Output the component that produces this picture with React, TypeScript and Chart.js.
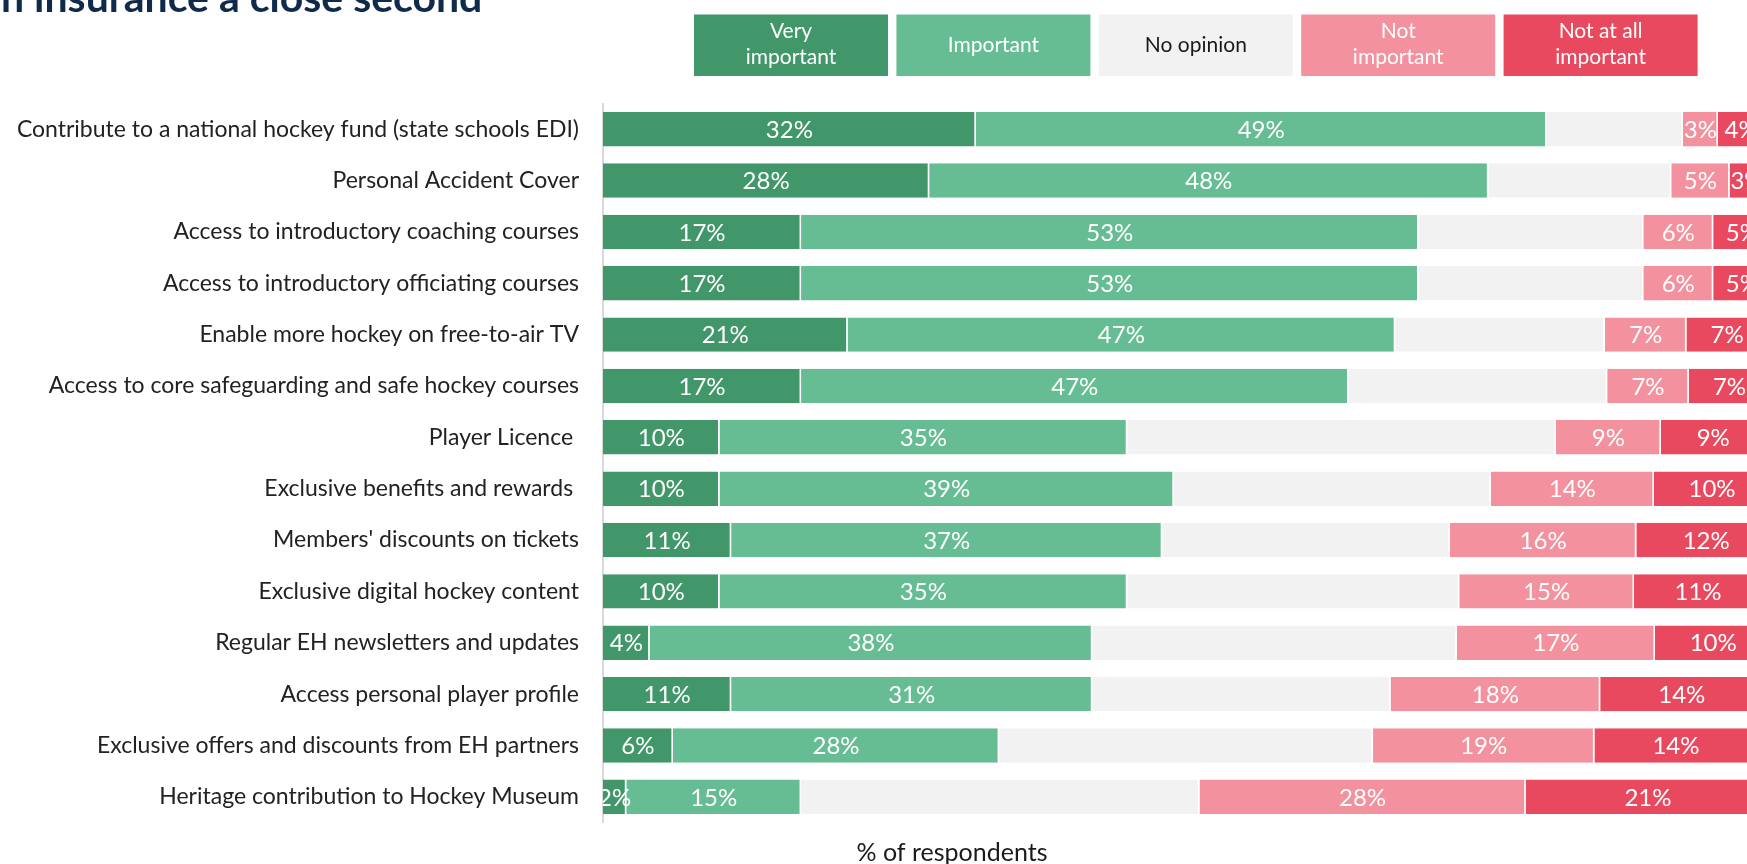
import { useEffect, useRef } from "react";
import { Chart, registerables } from "chart.js";

Chart.register(...registerables);

const categories = [
  "Contribute to a national hockey fund (state schools EDI)",
  "Personal Accident Cover",
  "Access to introductory coaching courses",
  "Access to introductory officiating courses",
  "Enable more hockey on free-to-air TV",
  "Access to core safeguarding and safe hockey courses",
  "Player Licence ",
  "Exclusive benefits and rewards ",
  "Members' discounts on tickets",
  "Exclusive digital hockey content",
  "Regular EH newsletters and updates",
  "Access personal player profile",
  "Exclusive offers and discounts from EH partners",
  "Heritage contribution to Hockey Museum",
];

const veryImportant = [32, 28, 17, 17, 21, 17, 10, 10, 11, 10, 4, 11, 6, 2];
const important = [49, 48, 53, 53, 47, 47, 35, 39, 37, 35, 38, 31, 28, 15];
const noOpinion = [11.7, 15.7, 19.3, 19.3, 18, 22.2, 36.8, 27.2, 24.7, 28.5, 31.3, 25.6, 32.1, 34.2];
const notImportant = [3, 5, 6, 6, 7, 7, 9, 14, 16, 15, 17, 18, 19, 28];
const notAtAllImportant = [4, 3, 5, 5, 7, 7, 9, 10, 12, 11, 10, 14, 14, 21];

const seriesNames = ["Very important", "Important", "No opinion", "Not important", "Not at all important"];
const legendLines = [["Very", "important"], ["Important"], ["No opinion"], ["Not", "important"], ["Not at all", "important"]];
const seriesColors = ["#41976a", "#67bd93", "#f2f2f2", "#f3929e", "#e8495e"];
const legendTextColors = ["#ffffff", "#ffffff", "#1a1a1a", "#ffffff", "#ffffff"];
const labelledSeries = [true, true, false, true, true];

const titleText = "n insurance a close second";
const xAxisTitle = "% of respondents";

const FONT = "Lato, 'Noto Sans', sans-serif";

const segmentLabels = {
  id: "segmentLabels",
  afterDatasetsDraw(chart: any) {
    const { ctx, chartArea } = chart;
    ctx.save();
    ctx.beginPath();
    ctx.rect(chartArea.left, chartArea.top, chartArea.right - chartArea.left, chartArea.bottom - chartArea.top);
    ctx.clip();
    ctx.font = `24px ${FONT}`;
    ctx.fillStyle = "#ffffff";
    ctx.textAlign = "center";
    ctx.textBaseline = "middle";
    chart.data.datasets.forEach((ds: any, i: number) => {
      if (!labelledSeries[i]) return;
      const meta = chart.getDatasetMeta(i);
      meta.data.forEach((el: any, j: number) => {
        const v = ds.data[j];
        const { x, y, base } = el.getProps(["x", "y", "base"], true);
        ctx.fillText(`${v}%`, (x + base) / 2, y + 1);
      });
    });
    ctx.restore();
  },
};

const decorations = {
  id: "decorations",
  afterDraw(chart: any) {
    const { ctx } = chart;
    ctx.save();
    // cropped heading
    ctx.font = `bold 41px ${FONT}`;
    ctx.fillStyle = "#0f2a4a";
    ctx.textAlign = "left";
    ctx.textBaseline = "alphabetic";
    ctx.fillText(titleText, 1, 12);

    // legend boxes
    const left = 694;
    const step = 202.4;
    const w = 194;
    const top = 14.5;
    const h = 61.5;
    ctx.font = `21px ${FONT}`;
    ctx.textAlign = "center";
    seriesNames.forEach((_, i) => {
      const x = left + i * step;
      ctx.fillStyle = seriesColors[i];
      ctx.fillRect(x, top, w, h);
      ctx.fillStyle = legendTextColors[i];
      const lines = legendLines[i];
      if (lines.length === 1) {
        ctx.fillText(lines[0], x + w / 2, 52);
      } else {
        ctx.fillText(lines[0], x + w / 2, 38);
        ctx.fillText(lines[1], x + w / 2, 64);
      }
    });

    // x axis title
    ctx.font = `25px ${FONT}`;
    ctx.fillStyle = "#1a1a1a";
    ctx.textAlign = "center";
    ctx.fillText(xAxisTitle, 952, 861);
    ctx.restore();
  },
};

export default function App() {
  const canvasRef = useRef<HTMLCanvasElement | null>(null);

  useEffect(() => {
    if (!canvasRef.current) return;
    const series = [veryImportant, important, noOpinion, notImportant, notAtAllImportant];
    const chart = new Chart(canvasRef.current, {
      type: "bar",
      data: {
        labels: categories,
        datasets: series.map((data, i) => ({
          label: seriesNames[i],
          data,
          backgroundColor: seriesColors[i],
          borderColor: "#ffffff",
          borderWidth: { top: 0, bottom: 0, left: 0, right: 1.5 },
          borderSkipped: false,
          barPercentage: 0.67,
          categoryPercentage: 1,
        })),
      },
      options: {
        indexAxis: "y",
        responsive: true,
        maintainAspectRatio: false,
        animation: false,
        layout: { padding: { top: 103.5, bottom: 41.5, left: 0, right: 0 } },
        plugins: {
          legend: { display: false },
          tooltip: { enabled: false },
          title: { display: false },
        },
        scales: {
          x: { stacked: true, min: 0, max: 98.2, display: false },
          y: {
            stacked: true,
            grid: { display: false, drawTicks: false },
            border: { display: true, color: "#d9d9d9", width: 2 },
            ticks: {
              color: "#222222",
              font: { family: FONT, size: 23 },
              padding: 24,
              autoSkip: false,
            },
            afterFit: (scale: any) => {
              scale.width = 603;
            },
          },
        },
      },
      plugins: [segmentLabels, decorations],
    } as any);
    return () => chart.destroy();
  }, []);

  return (
    <div style={{ position: "fixed", left: 0, top: 0, width: 1747, height: 864, background: "#ffffff" }}>
      <canvas ref={canvasRef} />
    </div>
  );
}
